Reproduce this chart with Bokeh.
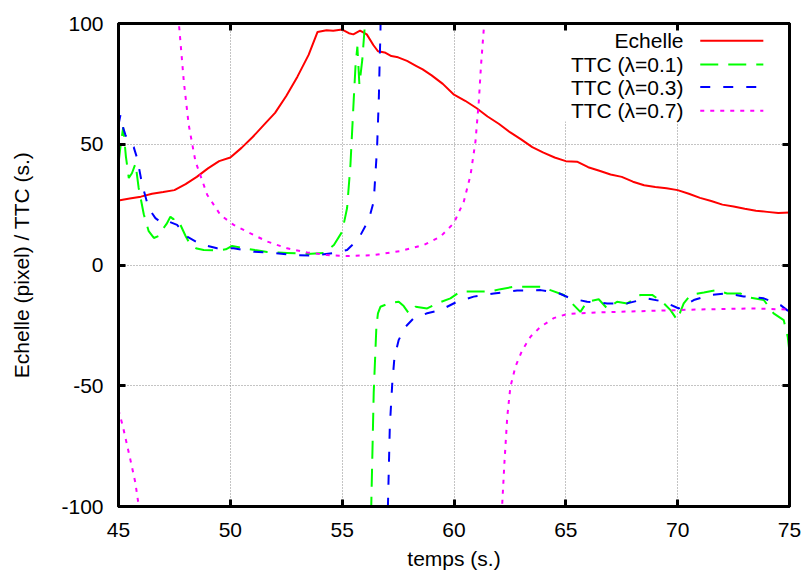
import numpy as np
from bokeh.plotting import figure
from bokeh.models import (Range1d, FixedTicker, LinearAxis, Label, BoxAnnotation,
                          CustomJSTickFormatter)
from bokeh.embed import file_html
from bokeh.resources import INLINE

NaN = float("nan")

# ---------------- data ----------------
x_ticks = [45, 50, 55, 60, 65, 70, 75]
y_ticks = [-100, -50, 0, 50, 100]

echelle_x = [45.0, 45.5, 46.0, 46.5, 47.0, 47.5, 48.0, 48.5, 49.0, 49.5, 50.0, 50.5, 51.0, 51.5,
             52.0, 52.5, 53.0, 53.5, 53.9, 54.3, 54.6, 55.0, 55.3, 55.5, 55.8, 56.1, 56.4, 56.6,
             56.9, 57.2, 57.5, 57.9, 58.3, 58.6, 59.0, 59.5, 60.0, 60.5, 61.0, 61.5, 62.0, 62.5,
             63.0, 63.5, 64.0, 64.5, 65.0, 65.5, 66.0, 66.5, 67.0, 67.5, 68.0, 68.5, 69.0, 69.5,
             70.0, 70.5, 71.0, 71.5, 72.0, 72.5, 73.0, 73.5, 74.0, 74.5, 75.0]
echelle_y = [26.7, 27.5, 28.3, 29.5, 30.2, 31.0, 33.5, 36.5, 40.0, 43.0, 44.5, 48.5, 53.0, 58.0,
             63.0, 70.0, 78.0, 87.0, 96.5, 97.2, 97.0, 97.5, 96.0, 95.5, 97.0, 95.5, 91.0, 88.5,
             88.0, 86.5, 86.0, 84.5, 82.5, 81.0, 78.5, 75.0, 70.5, 68.0, 65.0, 61.5, 58.5, 55.0,
             52.0, 48.8, 46.5, 44.5, 43.0, 42.8, 40.5, 39.0, 37.5, 36.5, 34.5, 33.0, 32.3, 31.8,
             31.0, 29.5, 27.8, 26.5, 25.0, 24.2, 23.3, 22.5, 22.0, 21.5, 21.7]

ttc01_x = [45.0, 45.1, 45.21, 45.33, 45.46, 45.6, 45.76, 45.9, 46.13, 46.35, 46.58, 46.8, 46.95,
           47.15, 47.32, 47.45, 47.55, 47.77, 48.0, 48.22, 48.5, 48.81, 49.41, 49.8, 50.08, 50.6,
           51.1, 51.65, 52.54, 53.44, 54.18, 54.63, 55.0, 55.22, 55.37, 55.52, 55.6, 55.68, 55.77,
           55.9, 56.0, 56.05, NaN,
           56.26, 56.3, 56.41, 56.53, 56.6, 56.71, 57.08, 57.53, 57.75, 57.98, 58.28, 58.8, 59.25,
           59.84, 60.29, 60.88, 61.63, 62.08, 62.67, 63.42, 63.94, 64.31, 64.91, 65.28, 65.65,
           65.95, 66.47, 66.85, 67.29, 67.74, 68.34, 68.86, 69.31, 69.68, 69.98, 70.27, 70.57,
           71.17, 71.76, 72.21, 72.8, 73.18, 73.85, 74.29, 74.74, 74.92, 75.0]
ttc01_y = [42, 50, 57, 45, 36, 38, 42, 32, 21, 14, 11.2, 12, 14.5,
           17, 20, 19, 19.5, 16.6, 12, 8.3, 6.8, 6.2, 6.0, 6.5, 7.9, 7.0,
           6.2, 5.4, 5.0, 4.6, 5.0, 8.3, 13.8, 23.6, 41.5, 69, 83, 90.4, 74.7,
           85, 97.5, 110, NaN,
           -115, -100, -53, -25.6, -20, -17.3, -15.9, -15.2, -17, -20, -17.3, -18, -15.9,
           -13.8, -11, -11, -11, -10, -9, -9, -9, -10.4, -12.4, -15.9, -19.4,
           -15.2, -14.2, -18, -15.2, -15.9, -12.4, -12.4, -15.2, -18.7, -22.8, -15.9, -12.4,
           -11.4, -10.4, -11.8, -11.8, -13.4, -14.5, -20, -22.8, -29.7, -36]

ttc03_x = [45.0, 45.09, 45.2, 45.31, 45.5, 45.68, 45.84, 46.06, 46.35, 46.65, 46.95, 47.25, 47.62,
           48.07, 48.67, 49.41, 50.15, 51.05, 51.94, 52.84, 53.73, 54.63, 55.22, 55.45, 55.82,
           56.19, 56.41, 56.56, 56.64, 56.68, 56.71, 56.73, NaN,
           57.02, 57.13, 57.24, 57.34, 57.53, 57.83, 58.2, 58.8, 59.39, 60.14, 60.88, 61.78,
           62.82, 63.87, 64.61, 65.21, 65.95, 66.85, 67.74, 68.63, 69.38, 70.05, 70.72, 71.47,
           72.21, 72.95, 73.85, 74.6, 74.89, 75.0]
ttc03_y = [58, 62.2, 57, 53.9, 50, 48.8, 44, 33.2, 23.5, 19.4, 17.3, 18, 16.6,
           11.7, 8.6, 6.9, 6.9, 5.5, 5.0, 4.1, 3.9, 5.0, 6.2, 8.3, 12.4,
           18.7, 26.3, 48.4, 69.2, 85.8, 95.4, 110, NaN,
           -110, -67, -49, -38, -31, -25.6, -22, -20, -18.7, -15.2, -13.1, -11.8,
           -10.6, -10.4, -11.4, -13.8, -15.2, -15.9, -15.9, -13.8, -15.2, -18, -14.5, -12.4,
           -11.8, -13, -13.8, -16.6, -18.7, -19.5]

ttc07_x = [45.0, 45.2, 45.54, 45.75, 45.91, 45.95, NaN,
           47.68, 47.7, 47.92, 48.14, 48.44, 48.97, 49.56, 50.15, 50.9, 51.65, 52.54, 53.44,
           54.33, 55.22, 56.41, 57.61, 58.65, 59.39, 59.99, 60.44, 60.74, 60.96, 61.11, 61.21,
           61.33, 61.36, NaN,
           62.13, 62.15, 62.26, 62.38, 62.52, 62.75, 63.05, 63.42, 63.87, 64.46, 65.06, 66.55,
           68.78, 71.02, 73.25, 74.89, 75.0]
ttc07_y = [-60, -67, -81, -90, -100, -103, NaN,
           103, 100, 76, 58, 42.9, 29, 20.7, 16.6, 13.1, 9.7, 6.9, 5.2,
           4.1, 3.7, 4.1, 5.8, 8.3, 11.7, 17.3, 26.3, 37.3, 51.2, 67.8, 83,
           97.5, 103, NaN,
           -103, -100, -81, -63, -50.5, -42, -35.3, -29.7, -25.6, -22, -20.3, -19.6,
           -19, -18.4, -18, -18.4, -18.4]

series_labels = ["Echelle", "TTC (\u03bb=0.1)", "TTC (\u03bb=0.3)", "TTC (\u03bb=0.7)"]
series_colors = ["#ff0000", "#00ff00", "#0000ff", "#ff00ff"]
series_dashes = ["solid", "18 10", "10 13", "4 6"]

# ---------------- figure ----------------
XMIN, XMAX = 45, 75
YMIN, YMAX = -100, 100
FONT = "Liberation Sans"
FS = "21px"

p = figure(width=809, height=576, x_range=Range1d(XMIN, XMAX), y_range=Range1d(YMIN, YMAX),
           output_backend="svg", toolbar_location=None,
           min_border_left=118, min_border_right=20, min_border_top=23, min_border_bottom=70)
p.background_fill_color = "white"
p.border_fill_color = "white"
p.outline_line_color = "black"
p.outline_line_width = 3

plain = CustomJSTickFormatter(code="return String(tick);")

for ax, ticks in ((p.xaxis[0], x_ticks), (p.yaxis[0], y_ticks)):
    ax.ticker = FixedTicker(ticks=ticks)
    ax.formatter = plain
    ax.major_tick_in = 7
    ax.major_tick_out = 0
    ax.major_tick_line_width = 3
    ax.minor_tick_line_color = None
    ax.axis_line_width = 3
    ax.major_label_text_font = FONT
    ax.major_label_text_font_size = FS
    ax.major_label_text_color = "black"
    ax.axis_label_text_font = FONT
    ax.axis_label_text_font_size = FS
    ax.axis_label_text_font_style = "normal"
    ax.axis_label_text_color = "black"

p.xaxis.axis_label = "temps (s.)"
p.yaxis.axis_label = "Echelle (pixel) / TTC (s.)"
p.xaxis.major_label_standoff = 16
p.yaxis.major_label_standoff = 15
p.xaxis.axis_label_standoff = 7
p.yaxis.axis_label_standoff = 25

# mirrored ticks (top, right), no labels
for loc, ticks in (("above", x_ticks), ("right", y_ticks)):
    ax = LinearAxis(ticker=FixedTicker(ticks=ticks), major_tick_in=7, major_tick_out=0,
                    major_tick_line_width=3, minor_tick_line_color=None, axis_line_width=3,
                    major_label_text_color=None, major_label_text_font_size="1px",
                    major_label_standoff=0)
    p.add_layout(ax, loc)

for g, ticks in ((p.xgrid[0], x_ticks), (p.ygrid[0], y_ticks)):
    g.ticker = FixedTicker(ticks=ticks)
    g.grid_line_color = "#888888"
    g.grid_line_dash = "1 2"
    g.grid_line_width = 1

def fx(f):
    return XMIN + f * (XMAX - XMIN)

def fy(f):
    return YMIN + f * (YMAX - YMIN)

# legend background (hides grid behind key, like gnuplot)
p.add_layout(BoxAnnotation(left=fx(0.65), right=XMAX, bottom=fy(0.797), top=YMAX,
                           fill_color="white", fill_alpha=1.0, line_color=None,
                           level="underlay"))

# ---------------- curves ----------------
xs = [echelle_x, ttc01_x, ttc03_x, ttc07_x]
ys = [echelle_y, ttc01_y, ttc03_y, ttc07_y]
for x, y, c, d in zip(xs, ys, series_colors, series_dashes):
    p.line(np.array(x, dtype=float), np.array(y, dtype=float), line_color=c,
           line_width=2, line_dash=d)

# ---------------- legend (gnuplot style: text right-aligned, key on right) ----------------
row_f = [0.9645, 0.915, 0.8685, 0.8195]
for lab, c, d, rf in zip(series_labels, series_colors, series_dashes, row_f):
    p.add_layout(Label(x=fx(0.842), y=fy(rf), text=lab, text_align="right",
                       text_baseline="middle", text_font=FONT, text_font_size=FS,
                       text_color="black"))
    p.line([fx(0.867), fx(0.961)], [fy(rf), fy(rf)], line_color=c, line_width=2, line_dash=d)

open("out.html", "w").write(file_html(p, INLINE))
